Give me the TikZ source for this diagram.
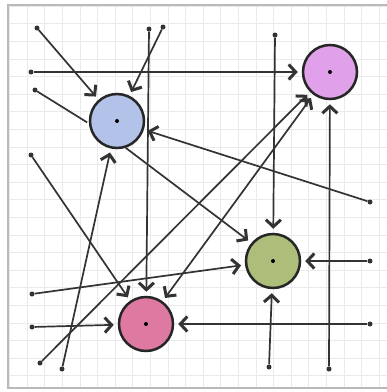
\documentclass[tikz,border=0pt]{standalone}
\usepackage{tikz}
\usetikzlibrary{arrows.meta}

\definecolor{blau}{RGB}{178,194,232}
\definecolor{lila}{RGB}{224,160,234}
\definecolor{gruen}{RGB}{172,190,122}
\definecolor{rot}{RGB}{222,122,162}

\begin{document}
\begin{tikzpicture}[
            x=1pt,
            y=-1pt,
            >={Straight Barb[length=7pt, width=15pt, line width=3pt]},
            kreis/.style={
                    draw=black!85,
                    circle,
                    minimum size=54pt,
                    inner sep=0pt,
                    line width=2.5pt
                },
            punkt/.style={
                    circle,
                    fill=black!80,
                    inner sep=0pt,
                    minimum size=5pt
                },
            linie/.style={
                    draw=black!80,
                    line width=1.7pt,
                    shorten >=2pt
                },
            pfeil/.style={
                    linie,
                    ->,
                    shorten >=4pt,
                    shorten <=0pt
                },
            gitter/.style={
                    draw=blue!15!gray!15,
                    line width=0.6pt
                },
            rahmen/.style={
                    draw=gray!55,
                    line width=2pt
                }
        ]

        \useasboundingbox (0,0) rectangle (387,392);
        \fill[white] (0,0) rectangle (387,392);
        \foreach \i in {0,...,21}
            \draw[gitter] (9.5+17.6*\i,5) -- (9.5+17.6*\i,388);
        \foreach \i in {0,...,21}
            \draw[gitter] (8,6+17.6*\i) -- (387,6+17.6*\i);
        \draw[rahmen] (387,5) -- (8,5) -- (8,388) -- (387,388);

        \node[kreis, fill=blau] (blau) at (117,121) {};
        \node[kreis, fill=lila] (lila) at (330,72) {};
        \node[kreis, fill=gruen] (gruen) at (273,261) {};
        \node[kreis, fill=rot] (rot) at (146,324) {};

        \node[punkt] (p1) at (37,28) {};
        \node[punkt] (p2) at (163,27) {};
        \node[punkt] (p3) at (31,72) {};
        \node[punkt] (p4) at (35,90) {};
        \node[punkt] (p5) at (31,155) {};
        \node[punkt] (p7) at (370,202) {};
        \node[punkt] (p8) at (275,35) {};
        \node[punkt] (p9) at (329,369) {};
        \node[punkt] (p10) at (370,261) {};
        \node[punkt] (p11) at (32,294) {};
        \node[punkt] (p12) at (269,367) {};
        \node[punkt] (p13) at (370,324) {};
        \node[punkt] (p14) at (32,327) {};
        \node[punkt] (p15) at (149,29) {};
        \node[punkt] (p16) at (40,363) {};
        \node[punkt] (p17) at (62,369) {};

        \draw[pfeil] (p1) -- (blau);
        \draw[pfeil] (p2) -- (blau);
        \draw[pfeil] (p3) -- (lila);
        \draw[linie] (p4) -- (blau.185);
        \draw[pfeil] (p5) -- (rot);
        \draw[pfeil] (blau.-72) -- (gruen.140);
        \draw[pfeil] (p7) -- (blau);
        \draw[pfeil] (p8) -- (gruen);
        \draw[pfeil] (p9) -- (lila);
        \draw[pfeil] (p10) -- (gruen);
        \draw[pfeil] (p11) -- (gruen);
        \draw[pfeil] (p12) -- (gruen);
        \draw[pfeil] (p13) -- (rot);
        \draw[pfeil] (p14) -- (rot);
        \draw[pfeil] (p15) -- (rot);
        \draw[pfeil] (p16) -- (lila);
        \draw[pfeil] (p17) -- (blau);
        \draw[pfeil, <->, shorten <=4pt] (rot) -- (lila);

        \foreach \k in {blau, lila, gruen, rot}
            \fill[black] (\k) circle (2);

    \end{tikzpicture}
\end{document}
